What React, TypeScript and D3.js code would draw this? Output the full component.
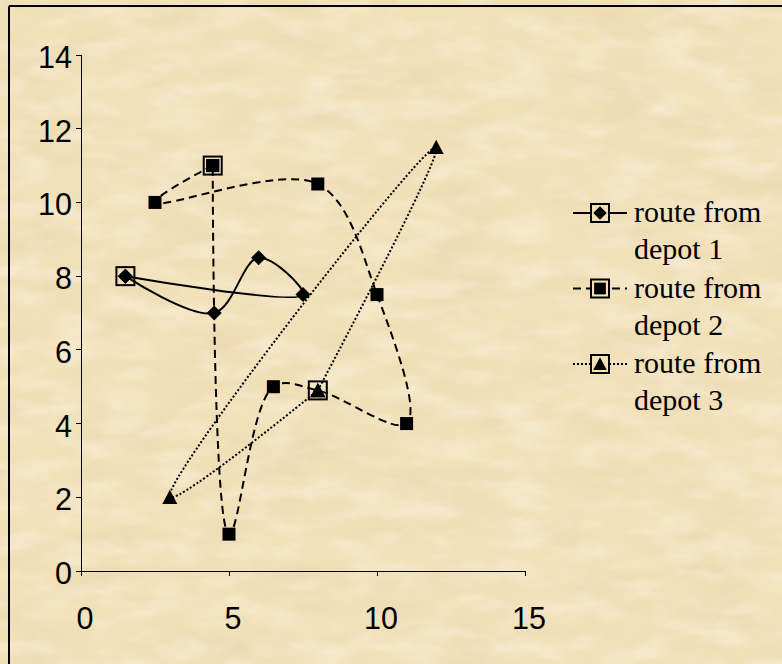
import React from "react";
import * as d3 from "d3";

// ---- data ----
const xTickValues = [0, 5, 10, 15];
const yTickValues = [0, 2, 4, 6, 8, 10, 12, 14];

const route1X = [1.5, 7.5, 6, 4.5, 1.5];
const route1Y = [8, 7.5, 8.5, 7, 8];

const route2X = [4.45, 2.5, 8, 10, 11, 8, 6.5, 5, 4.45];
const route2Y = [11, 10, 10.5, 7.5, 4, 4.9, 5, 1, 11];

const route3X = [8, 12, 3, 8];
const route3Y = [4.9, 11.5, 2, 4.9];

const depotX = [1.5, 4.45, 8];
const depotY = [8, 11, 4.9];

const legendLine1 = ["route from", "route from", "route from"];
const legendLine2 = ["depot 1", "depot 2", "depot 3"];

const W = 782;
const H = 664;

type Pt = [number, number];

function Marker({ kind, cx, cy, s = 1 }: { kind: number; cx: number; cy: number; s?: number }) {
  if (kind === 0) {
    const r = 7.5 * s;
    return <path d={`M${cx},${cy - r}L${cx + r},${cy}L${cx},${cy + r}L${cx - r},${cy}Z`} fill="#000" />;
  }
  if (kind === 1) {
    const r = 6.5 * s;
    return <rect x={cx - r} y={cy - r} width={2 * r} height={2 * r} fill="#000" />;
  }
  const r = 7.5 * s;
  return <path d={`M${cx},${cy - r}L${cx + r},${cy + r * 0.9}L${cx - r},${cy + r * 0.9}Z`} fill="#000" />;
}

export default function App() {
  const x = d3.scaleLinear().domain([0, 15]).range([81, 525]);
  const y = d3.scaleLinear().domain([0, 14]).range([571, 55]);

  const line = d3
    .line<Pt>()
    .x((d) => x(d[0]))
    .y((d) => y(d[1]))
    .curve(d3.curveCatmullRom.alpha(0.5));

  const routes = [
    { xs: route1X, ys: route1Y, dash: undefined as string | undefined },
    { xs: route2X, ys: route2Y, dash: "8,5" },
    { xs: route3X, ys: route3Y, dash: "2,2" },
  ];

  const isOtherDepot = (ri: number, px: number, py: number) =>
    depotX.some((dx, di) => di !== ri && dx === px && depotY[di] === py);

  const bg = "#F1E0B8";

  return (
    <div style={{ position: "absolute", left: 0, top: 0 }}>
      <svg width={W} height={H} style={{ display: "block" }}>
        <defs>
          <filter id="paper" x="0" y="0" width="100%" height="100%">
            <feTurbulence type="fractalNoise" baseFrequency="0.012 0.03" numOctaves="4" seed="7" result="n" />
            <feColorMatrix
              in="n"
              type="matrix"
              values="0 0 0 0 0.8  0 0 0 0 0.64  0 0 0 0 0.42  0.9 0 0 0 -0.38"
            />
          </filter>
          <filter id="paper2" x="0" y="0" width="100%" height="100%">
            <feTurbulence type="fractalNoise" baseFrequency="0.02 0.05" numOctaves="3" seed="21" result="n" />
            <feColorMatrix
              in="n"
              type="matrix"
              values="0 0 0 0 1  0 0 0 0 0.97  0 0 0 0 0.88  0 0.9 0 0 -0.38"
            />
          </filter>
        </defs>
        <rect x={0} y={0} width={W} height={H} fill={bg} />
        <rect x={0} y={0} width={W} height={H} filter="url(#paper)" />
        <rect x={0} y={0} width={W} height={H} filter="url(#paper2)" />

        {/* outer border (top and left visible) */}
        <line x1={9} y1={6} x2={W} y2={6} stroke="#000" strokeWidth={2} />
        <line x1={9} y1={6} x2={9} y2={H} stroke="#000" strokeWidth={2} />

        {/* axes */}
        <line x1={x(0)} y1={y(0)} x2={x(15)} y2={y(0)} stroke="#000" strokeWidth={1} shapeRendering="crispEdges" />
        <line x1={x(0)} y1={y(0)} x2={x(0)} y2={y(14)} stroke="#000" strokeWidth={1} shapeRendering="crispEdges" />
        {yTickValues.map((t) => (
          <g key={"y" + t}>
            <line x1={x(0) - 5} x2={x(0)} y1={y(t)} y2={y(t)} stroke="#000" shapeRendering="crispEdges" />
            <text
              x={72}
              y={y(t) + 13}
              textAnchor="end"
              fontFamily="'Liberation Sans', Arial, sans-serif"
              fontSize={30.5}
              fill="#000"
            >
              {t}
            </text>
          </g>
        ))}
        {xTickValues.map((t) => (
          <g key={"x" + t}>
            <line x1={x(t)} x2={x(t)} y1={y(0)} y2={y(0) + 5} stroke="#000" shapeRendering="crispEdges" />
            <text
              x={x(t) + 4}
              y={629}
              textAnchor="middle"
              fontFamily="'Liberation Sans', Arial, sans-serif"
              fontSize={30.5}
              fill="#000"
            >
              {t}
            </text>
          </g>
        ))}

        {/* route lines */}
        {routes.map((r, i) => (
          <path
            key={"l" + i}
            d={line(r.xs.map((v, k) => [v, r.ys[k]] as Pt)) || ""}
            fill="none"
            stroke="#000"
            strokeWidth={2}
            strokeDasharray={r.dash}
          />
        ))}

        {/* markers */}
        {routes.map((r, i) =>
          r.xs.map((v, k) =>
            isOtherDepot(i, v, r.ys[k]) ? null : (
              <Marker key={`m${i}-${k}`} kind={i} cx={x(v)} cy={y(r.ys[k])} />
            )
          )
        )}

        {/* depot boxes */}
        {depotX.map((v, i) => (
          <rect
            key={"d" + i}
            x={x(v) - 9}
            y={y(depotY[i]) - 9}
            width={18}
            height={18}
            fill="none"
            stroke="#000"
            strokeWidth={2}
          />
        ))}

        {/* legend */}
        {legendLine1.map((txt, i) => {
          const ly = 213 + i * 75.5;
          return (
            <g key={"lg" + i}>
              <line
                x1={573}
                x2={627}
                y1={ly}
                y2={ly}
                stroke="#000"
                strokeWidth={2}
                strokeDasharray={routes[i].dash}
              />
              <rect x={591} y={ly - 9} width={18} height={18} fill={bg} stroke="#000" strokeWidth={2} />
              <Marker kind={i} cx={600} cy={ly} s={0.9} />
              <text x={634} y={ly + 9} fontFamily="'Liberation Serif', 'Times New Roman', serif" fontSize={30} fill="#000">
                {txt}
              </text>
              <text x={634} y={ly + 46} fontFamily="'Liberation Serif', 'Times New Roman', serif" fontSize={30} fill="#000">
                {legendLine2[i]}
              </text>
            </g>
          );
        })}
      </svg>
    </div>
  );
}
